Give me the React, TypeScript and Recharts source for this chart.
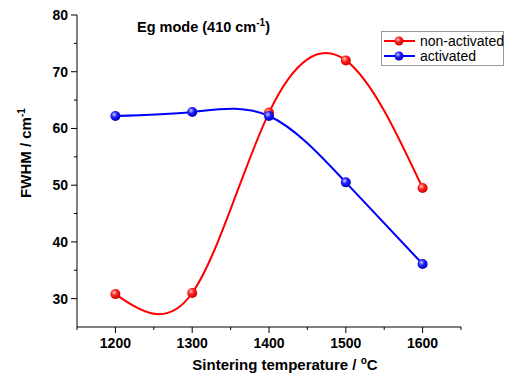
import React from 'react';
import { LineChart, Line, XAxis, YAxis } from 'recharts';

const temperatures = [1200, 1300, 1400, 1500, 1600];
const nonActivated = [30.8, 31.0, 62.8, 72.0, 49.5];
const activated = [62.2, 62.9, 62.2, 50.5, 36.1];

const xTicks = [1150, 1200, 1250, 1300, 1350, 1400, 1450, 1500, 1550, 1600, 1650];
const yTicks = [30, 35, 40, 45, 50, 55, 60, 65, 70, 75, 80];
const xMajor = [1200, 1300, 1400, 1500, 1600];
const yMajor = [30, 40, 50, 60, 70, 80];

const chartData = temperatures.map((t, i) => ({
  temp: t,
  nonActivated: nonActivated[i],
  activated: activated[i],
}));

const FONT = '"Liberation Sans", Arial, sans-serif';

const XTick = ({ x, y, payload }: any) => {
  const major = xMajor.includes(payload.value);
  return (
    <g>
      <line x1={x} x2={x} y1={y} y2={y + (major ? 6 : 3)} stroke="#000" strokeWidth={1} />
      {major && (
        <text x={x} y={y + 21} textAnchor="middle" fontFamily={FONT} fontWeight="bold" fontSize={14} fill="#000">
          {payload.value}
        </text>
      )}
    </g>
  );
};

const YTick = ({ x, y, payload }: any) => {
  const major = yMajor.includes(payload.value);
  return (
    <g>
      <line x1={x - (major ? 6 : 3)} x2={x} y1={y} y2={y} stroke="#000" strokeWidth={1} />
      {major && (
        <text x={x - 9} y={y + 5} textAnchor="end" fontFamily={FONT} fontWeight="bold" fontSize={14} fill="#000">
          {payload.value}
        </text>
      )}
    </g>
  );
};

// shaded ball marker
const Ball = (fillId: string) => (props: any) => {
  const { cx, cy, index } = props;
  if (cx == null || cy == null) return <g key={index} />;
  return <circle key={index} cx={cx} cy={cy} r={5} fill={`url(#${fillId})`} />;
};

const App: React.FC = () => {
  return (
    <div style={{ position: 'absolute', left: 0, top: 0, width: 506, height: 374, background: '#fff' }}>
      <LineChart
        width={506}
        height={374}
        data={chartData}
        margin={{ top: 15, right: 45, bottom: 0, left: 0 }}
      >
        <defs>
          <radialGradient id="ballRed" cx="38%" cy="35%" r="65%">
            <stop offset="0%" stopColor="#ffc8c8" />
            <stop offset="45%" stopColor="#ff2020" />
            <stop offset="100%" stopColor="#d00000" />
          </radialGradient>
          <radialGradient id="ballBlue" cx="38%" cy="35%" r="65%">
            <stop offset="0%" stopColor="#c8c8ff" />
            <stop offset="45%" stopColor="#2020ff" />
            <stop offset="100%" stopColor="#0000c0" />
          </radialGradient>
        </defs>
        <XAxis
          dataKey="temp"
          type="number"
          domain={[1150, 1650]}
          ticks={xTicks}
          interval={0}
          height={47}
          tickSize={0}
          tickMargin={0}
          tickLine={false}
          axisLine={{ stroke: '#000', strokeWidth: 1 }}
          tick={<XTick />}
        />
        <YAxis
          type="number"
          domain={[25, 80]}
          ticks={yTicks}
          interval={0}
          width={77}
          tickSize={0}
          tickMargin={0}
          tickLine={false}
          axisLine={{ stroke: '#000', strokeWidth: 1 }}
          tick={<YTick />}
        />
        <Line
          dataKey="nonActivated"
          type="natural"
          stroke="#ff0000"
          strokeWidth={2}
          dot={Ball('ballRed')}
          activeDot={false}
          isAnimationActive={false}
        />
        <Line
          dataKey="activated"
          type="natural"
          stroke="#0000ff"
          strokeWidth={2}
          dot={Ball('ballBlue')}
          activeDot={false}
          isAnimationActive={false}
        />
      </LineChart>

      <svg width={506} height={374} style={{ position: 'absolute', left: 0, top: 0, pointerEvents: 'none' }}>
        <defs>
          <radialGradient id="legRed" cx="38%" cy="35%" r="65%">
            <stop offset="0%" stopColor="#ffc8c8" />
            <stop offset="45%" stopColor="#ff2020" />
            <stop offset="100%" stopColor="#d00000" />
          </radialGradient>
          <radialGradient id="legBlue" cx="38%" cy="35%" r="65%">
            <stop offset="0%" stopColor="#c8c8ff" />
            <stop offset="45%" stopColor="#2020ff" />
            <stop offset="100%" stopColor="#0000c0" />
          </radialGradient>
        </defs>

        <text x={137} y={32} fontFamily={FONT} fontWeight="bold" fontSize={14.5} fill="#000">
          Eg mode (410 cm<tspan dy={-6} fontSize={10}>-1</tspan><tspan dy={6}>)</tspan>
        </text>

        <text
          transform="translate(31,153) rotate(-90)"
          textAnchor="middle"
          fontFamily={FONT}
          fontWeight="bold"
          fontSize={15}
          fill="#000"
        >
          FWHM / cm<tspan dy={-6} fontSize={10}>-1</tspan>
        </text>

        <text x={285} y={370} textAnchor="middle" fontFamily={FONT} fontWeight="bold" fontSize={15} fill="#000">
          Sintering temperature / <tspan dy={-6} fontSize={10}>o</tspan><tspan dy={6}>C</tspan>
        </text>

        <rect x={381.5} y={31.5} width={122} height={34} fill="#fff" stroke="#999" strokeWidth={1} />
        <line x1={384} x2={415} y1={41} y2={41} stroke="#ff0000" strokeWidth={2} />
        <circle cx={399} cy={41} r={4.5} fill="url(#legRed)" />
        <text x={420} y={46} fontFamily={FONT} fontSize={14} fill="#000">non-activated</text>
        <line x1={384} x2={415} y1={56} y2={56} stroke="#0000ff" strokeWidth={2} />
        <circle cx={399} cy={56} r={4.5} fill="url(#legBlue)" />
        <text x={420} y={61} fontFamily={FONT} fontSize={14} fill="#000">activated</text>
      </svg>
    </div>
  );
};

export default App;
